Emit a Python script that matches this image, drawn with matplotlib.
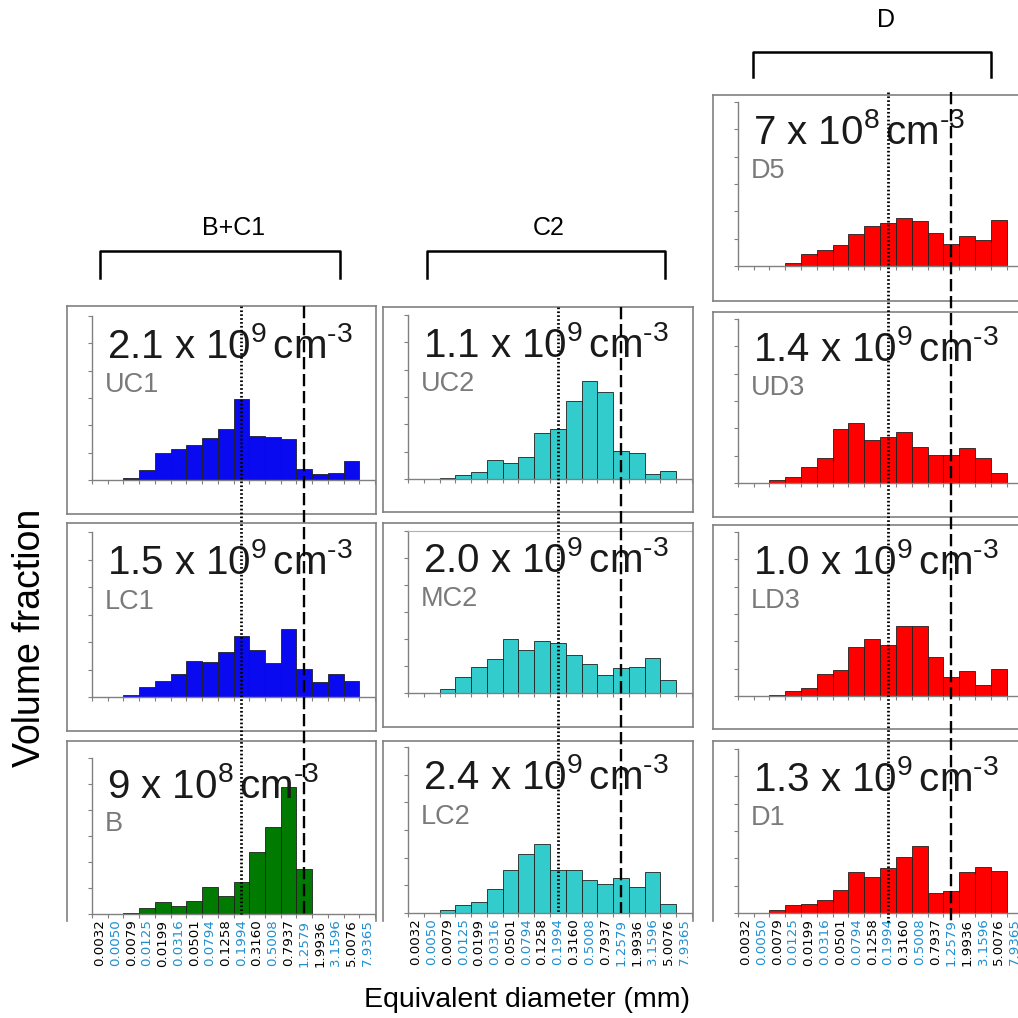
import numpy as np
import matplotlib
matplotlib.use('Agg')
import matplotlib.pyplot as plt
from matplotlib.lines import Line2D
from matplotlib.transforms import blended_transform_factory

plt.rcParams['font.family'] = ['Liberation Sans', 'DejaVu Sans']
plt.rcParams['mathtext.fontset'] = 'custom'
plt.rcParams['mathtext.rm'] = 'Liberation Sans'
plt.rcParams['mathtext.it'] = 'Liberation Sans:italic'
plt.rcParams['mathtext.bf'] = 'Liberation Sans:bold'

# ---------------- data ----------------
size_labels = ['0.0032', '0.0050', '0.0079', '0.0125', '0.0199', '0.0316',
               '0.0501', '0.0794', '0.1258', '0.1994', '0.3160', '0.5008',
               '0.7937', '1.2579', '1.9936', '3.1596', '5.0076', '7.9365']

uc1 = [0, 0, 0.09, 0.37, 1.00, 1.12, 1.28, 1.52, 1.85, 2.96, 1.61, 1.56, 1.50, 0.39, 0.22, 0.27, 0.71, 0]
lc1 = [0, 0, 0.09, 0.36, 0.57, 0.83, 1.31, 1.26, 1.63, 2.23, 1.70, 1.24, 2.49, 1.01, 0.56, 0.83, 0.60, 0]
b_ = [0, 0, 0.03, 0.23, 0.45, 0.30, 0.51, 1.03, 0.68, 1.25, 2.37, 3.34, 4.87, 1.72, 0, 0, 0, 0]

uc2 = [0, 0, 0.05, 0.15, 0.27, 0.68, 0.57, 0.79, 1.67, 1.82, 2.85, 3.57, 3.17, 1.02, 0.94, 0.17, 0.29, 0]
mc2 = [0, 0, 0.14, 0.60, 0.95, 1.27, 2.00, 1.61, 1.92, 1.86, 1.42, 1.07, 0.65, 0.91, 0.97, 1.29, 0.49, 0]
lc2 = [0, 0, 0.11, 0.28, 0.41, 0.85, 1.57, 2.15, 2.50, 1.55, 1.55, 1.18, 1.04, 1.26, 0.93, 1.50, 0.33, 0]

d5 = [0, 0, 0.01, 0.12, 0.43, 0.58, 0.78, 1.18, 1.46, 1.59, 1.76, 1.65, 1.20, 0.79, 1.11, 0.95, 1.69, 0]
ud3 = [0, 0, 0.10, 0.21, 0.59, 0.90, 1.98, 2.19, 1.56, 1.69, 1.87, 1.30, 1.01, 1.04, 1.27, 0.90, 0.37, 0]
ld3 = [0, 0, 0.04, 0.19, 0.29, 0.82, 0.95, 1.80, 2.08, 1.87, 2.57, 2.57, 1.44, 0.69, 0.90, 0.39, 0.97, 0]
d1 = [0, 0, 0.10, 0.28, 0.34, 0.49, 0.83, 1.50, 1.33, 1.65, 2.04, 2.44, 0.72, 0.82, 1.49, 1.70, 1.54, 0]

sample_names = ['UC1', 'LC1', 'B', 'UC2', 'MC2', 'LC2', 'D5', 'UD3', 'LD3', 'D1']
density_mantissa = ['2.1', '1.5', '9', '1.1', '2.0', '2.4', '7', '1.4', '1.0', '1.3']
density_exponent = ['9', '9', '8', '9', '9', '9', '8', '9', '9', '9']
group_labels = ['B+C1', 'C2', 'D']
marker_sizes = ['0.1994', '1.2579']   # dotted, dashed reference sizes

series = {'UC1': uc1, 'LC1': lc1, 'B': b_, 'UC2': uc2, 'MC2': mc2, 'LC2': lc2,
          'D5': d5, 'UD3': ud3, 'LD3': ld3, 'D1': d1}

# ---------------- layout (pixels) ----------------
W = H = 1018
fig = plt.figure(figsize=(W / 100, H / 100), dpi=100)

def fx(p):
    return p / W

def fy(p):
    return 1 - p / H

colors = {'UC1': '#0a0af0', 'LC1': '#0a0af0', 'B': '#007a00',
          'UC2': '#33cccc', 'MC2': '#33cccc', 'LC2': '#33cccc',
          'D5': '#ff0000', 'UD3': '#ff0000', 'LD3': '#ff0000', 'D1': '#ff0000'}

# inner axes: left, right ; panels: name, top, baseline, box top, box bottom (None=open)
cols = [
    dict(left=92, right=375, box=(67, 376), panels=[
        ('UC1', 316, 480, 306, 514),
        ('LC1', 532, 697, 523, 731),
        ('B', 758, 914, 741, None)], vtop=306, vbot=914,
        bracket=(100, 340, 251, 278), glabel=(234, 228)),
    dict(left=408, right=692, box=(383, 693), panels=[
        ('UC2', 315, 479, 307, 512),
        ('MC2', 531, 693, 523, 727),
        ('LC2', 747, 913, 741, None)], vtop=307, vbot=913,
        bracket=(427, 665, 251, 278), glabel=(549, 228)),
    dict(left=737.7, right=1022.6, box=(713, 1030), panels=[
        ('D5', 102, 266, 95, 301),
        ('UD3', 319, 483, 312, 517),
        ('LD3', 532, 696, 525, 729),
        ('D1', 749, 913, 741, None)], vtop=92, vbot=922,
        bracket=(753, 991, 52, 77), glabel=(886, 20)),
]

gray = '#808080'
x = np.arange(len(size_labels))
label_colors = ['black' if i % 2 == 0 else '#1e8fd0' for i in range(len(size_labels))]

for ci, col in enumerate(cols):
    last_ax = None
    for pi, (name, top, base, btop, bbot) in enumerate(col['panels']):
        is_bottom = bbot is None
        ax = fig.add_axes([fx(col['left']), fy(base), fx(col['right']) - fx(col['left']), (base - top) / H])
        ax.patch.set_alpha(0)
        vals = np.array(series[name], dtype=float)
        nz = vals > 0
        ax.bar(x[nz], vals[nz], width=1.0, color=colors[name], edgecolor='#202020', linewidth=0.6)
        ax.set_xlim(-0.5, len(size_labels) - 0.5)
        ax.set_ylim(0, 6)
        ax.set_yticks(range(7))
        ax.set_yticklabels([])
        for s in ['top', 'right']:
            ax.spines[s].set_visible(False)
        if name == 'MC2':
            ax.spines['top'].set_visible(True)
            ax.spines['top'].set_color('#b0b0b0')
            ax.spines['top'].set_linewidth(0.8)
        for s in ['left', 'bottom']:
            ax.spines[s].set_color(gray)
            ax.spines[s].set_linewidth(1.0)
        ax.tick_params(axis='y', length=3, color=gray, direction='out', width=0.8)
        ax.set_xticks(np.arange(-0.5, len(size_labels), 1.0), minor=True)
        ax.tick_params(axis='x', which='minor', length=3, color=gray, direction='out', width=0.8)
        ax.set_xticks(x)
        if is_bottom:
            ax.set_xticklabels(size_labels, rotation=90, fontsize=9.6, family='DejaVu Sans')
            for t, c in zip(ax.get_xticklabels(), label_colors):
                t.set_color(c)
            ax.tick_params(axis='x', which='major', length=0, pad=4)
            last_ax = ax
        else:
            ax.set_xticklabels([])
            ax.tick_params(axis='x', which='major', length=0)
        idx = sample_names.index(name)
        ax.text(0.053, 0.745,
                r'$\mathregular{%s\ x\ 10^{%s}\,cm^{\text{-3}}}$' % (density_mantissa[idx], density_exponent[idx]),
                transform=ax.transAxes, fontsize=29, color='#1a1a1a', va='baseline', ha='left')
        ax.text(0.045, 0.535, name, transform=ax.transAxes, fontsize=19.5, color='#7a7a7a',
                va='baseline', ha='left')

        # outer box
        bl, br = col['box']
        kw = dict(color=gray, linewidth=1.2, transform=fig.transFigure)
        fig.add_artist(Line2D([fx(bl), fx(br)], [fy(btop), fy(btop)], **kw))
        bottom_px = bbot if bbot is not None else 921
        fig.add_artist(Line2D([fx(bl), fx(bl)], [fy(btop), fy(bottom_px)], **kw))
        fig.add_artist(Line2D([fx(br), fx(br)], [fy(btop), fy(bottom_px)], **kw))
        if bbot is not None:
            fig.add_artist(Line2D([fx(bl), fx(br)], [fy(bbot), fy(bbot)], **kw))

    # reference size lines spanning the column
    tr = blended_transform_factory(last_ax.transData, fig.transFigure)
    xd = size_labels.index(marker_sizes[0])
    xs = size_labels.index(marker_sizes[1])
    fig.add_artist(Line2D([xd, xd], [fy(col['vtop']), fy(col['vbot'])], transform=tr,
                          color='black', linewidth=2.0, linestyle=(0, (0.6, 0.8))))
    fig.add_artist(Line2D([xs, xs], [fy(col['vtop']), fy(col['vbot'])], transform=tr,
                          color='black', linewidth=1.7, linestyle=(0, (5.2, 2.0))))

    # bracket
    l, r, yt, yb = col['bracket']
    fig.add_artist(Line2D([fx(l), fx(l), fx(r), fx(r)], [fy(yb), fy(yt), fy(yt), fy(yb)],
                          color='black', linewidth=1.8, transform=fig.transFigure))
    gx, gy = col['glabel']
    fig.text(fx(gx), fy(gy), group_labels[ci], fontsize=18, ha='center', va='center')

fig.text(fx(30), fy(638), 'Volume fraction', rotation=90, fontsize=27, ha='center', va='center')
fig.text(fx(527), fy(1000), 'Equivalent diameter (mm)', fontsize=20.5, ha='center', va='center')

fig.savefig('out.png', dpi=100)
